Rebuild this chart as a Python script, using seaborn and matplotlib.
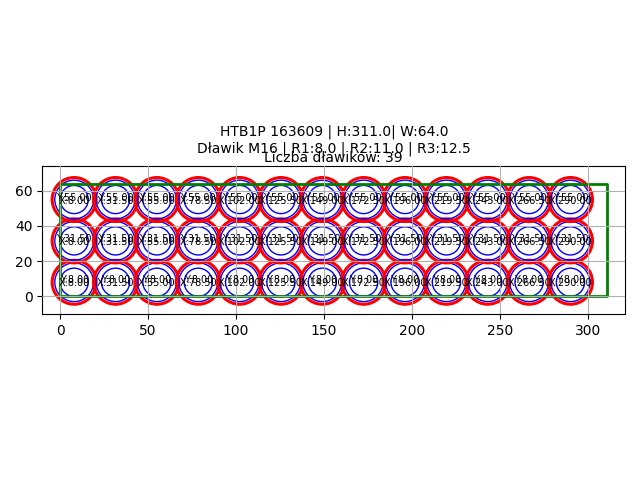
import matplotlib
matplotlib.use("Agg")
import matplotlib.pyplot as plt
from matplotlib.patches import Circle
import pandas as pd
import seaborn as sns

x_positions = [8.0, 31.5, 55.0, 78.5, 102.0, 125.5, 149.0, 172.5, 196.0, 219.5, 243.0, 266.5, 290.0]
y_positions = [8.0, 31.5, 55.0]
radii = [8.0, 11.0, 12.5]
radius_colors = ["blue", "blue", "red"]
radius_widths = [1.0, 1.0, 2.2]
outline_x = [0, 311, 311, 0, 0]
outline_y = [0, 0, 64, 64, 0]
title_text = "HTB1P 163609 | H:311.0| W:64.0\nDławik M16 | R1:8.0 | R2:11.0 | R3:12.5"
count_text = "Liczba dławików: 39"

fig, ax = plt.subplots(figsize=(6.4, 4.8), dpi=100)
for gx in x_positions:
    for gy in y_positions:
        for r, c, w in zip(radii, radius_colors, radius_widths):
            ax.add_patch(Circle((gx, gy), r, fill=False, edgecolor=c, linewidth=w))
        ax.text(gx, gy - 0.6, f"X:{gx:.2f}", ha="center", va="center", fontsize=7)
        ax.text(gx, gy + 1.1, f"Y:{gy:.2f}", ha="center", va="center", fontsize=7)

outline = pd.DataFrame({"x": outline_x, "y": outline_y})
sns.lineplot(data=outline, x="x", y="y", sort=False, estimator=None, color="green", linewidth=2, ax=ax)
ax.set_aspect("equal")
ax.set_xlim(-10, 321)
ax.set_ylim(-10, 74)
ax.set_xlabel("")
ax.set_ylabel("")
ax.grid(True)
ax.set_axisbelow(False)
ax.set_title(title_text, fontsize=10, pad=10)
fig.subplots_adjust(left=0.066, right=0.977, top=0.654, bottom=0.346)
ax.text(0.5, 1.005, count_text, transform=ax.transAxes, ha="center", va="bottom", fontsize=10)
fig.savefig("out.png", dpi=100)
